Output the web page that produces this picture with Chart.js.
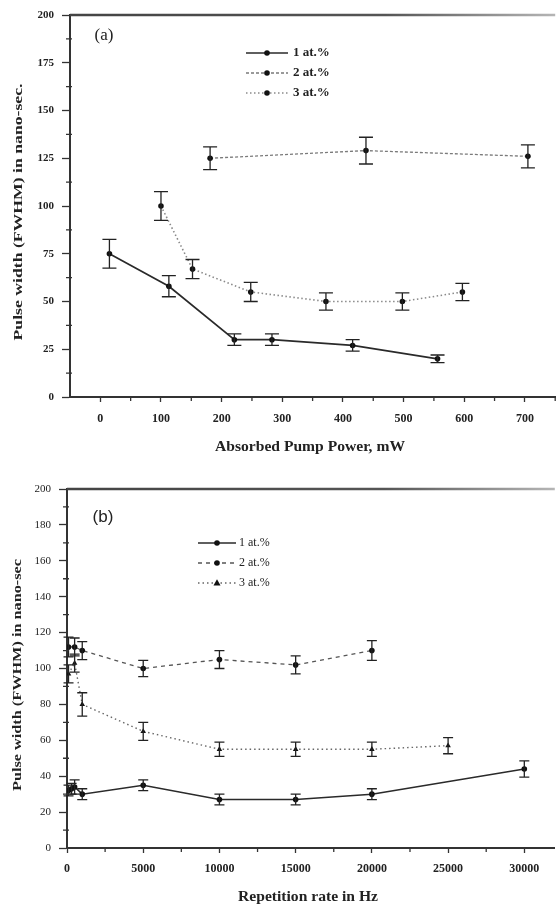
<!DOCTYPE html>
<html>
<head>
<meta charset="utf-8">
<script src="https://cdn.jsdelivr.net/npm/chart.js@4.4.1/dist/chart.umd.min.js"></script>
<style>
  html, body { margin: 0; padding: 0; background: #fff; overflow: hidden; }
  canvas { display: block; }
</style>
</head>
<body>
<canvas id="chartA" width="558" height="465"></canvas>
<canvas id="chartB" width="558" height="440"></canvas>
<script>
// Legend entries (Nd concentration)
const seriesLabels = ['1 at.%', '2 at.%', '3 at.%'];

// ---- (a) Pulse width vs absorbed pump power ----
const powerTicks = [0, 100, 200, 300, 400, 500, 600, 700];
const widthTicksA = [0, 25, 50, 75, 100, 125, 150, 175, 200];
const power1 = [15, 113, 221, 283, 416, 556];
const width1 = [75, 58, 30, 30, 27, 20];
const err1 = [7.5, 5.5, 3, 3, 3, 2];
const power2 = [181, 438, 705];
const width2 = [125, 129, 126];
const err2 = [6, 7, 6];
const power3 = [100, 152, 248, 372, 498, 597];
const width3 = [100, 67, 55, 50, 50, 55];
const err3 = [7.5, 5, 5, 4.5, 4.5, 4.5];

// ---- (b) Pulse width vs repetition rate ----
const rateTicks = [0, 5000, 10000, 15000, 20000, 25000, 30000];
const widthTicksB = [0, 20, 40, 60, 80, 100, 120, 140, 160, 180, 200];
const rate1 = [100, 300, 500, 1000, 5000, 10000, 15000, 20000, 30000];
const rwidth1 = [32, 33, 34, 30, 35, 27, 27, 30, 44];
const rerr1 = [3, 3, 4, 3, 3, 3, 3, 3, 4.5];
const rate2 = [100, 500, 1000, 5000, 10000, 15000, 20000];
const rwidth2 = [112, 112, 110, 100, 105, 102, 110];
const rerr2 = [5.5, 5, 5, 4.5, 5, 5, 5.5];
const rate3 = [100, 500, 1000, 5000, 10000, 15000, 20000, 25000];
const rwidth3 = [97, 103, 80, 65, 55, 55, 55, 57];
const rerr3 = [5, 5, 6.5, 5, 4, 4, 4, 4.5];

const SERIF = "'Liberation Serif', 'Times New Roman', serif";
const SANS = "'Liberation Sans', Arial, sans-serif";
const INK = '#222';

function points(xs, ys) { return xs.map((x, i) => ({ x, y: ys[i] })); }

// vertical error bars with caps, drawn through the y scale
const errorBars = {
  id: 'errorBars',
  afterDatasetsDraw(chart, args, o) {
    const { ctx } = chart;
    const ys = chart.scales.y;
    ctx.save();
    ctx.strokeStyle = o.color;
    ctx.lineWidth = o.width;
    chart.data.datasets.forEach((ds, i) => {
      if (!ds.errors) return;
      chart.getDatasetMeta(i).data.forEach((el, j) => {
        const v = ds.data[j].y, e = ds.errors[j];
        const top = ys.getPixelForValue(v + e);
        const bot = ys.getPixelForValue(v - e);
        const x = el.x;
        ctx.beginPath();
        ctx.moveTo(x, top); ctx.lineTo(x, bot);
        ctx.moveTo(x - o.cap, top); ctx.lineTo(x + o.cap, top);
        ctx.moveTo(x - o.cap, bot); ctx.lineTo(x + o.cap, bot);
        ctx.stroke();
      });
    });
    ctx.restore();
  }
};

// top frame line and minor ticks half way between the major ones
const frame = {
  id: 'frame',
  afterDraw(chart, args, o) {
    const { ctx, chartArea: a } = chart;
    const xs = chart.scales.x, ys = chart.scales.y;
    ctx.save();
    const g = ctx.createLinearGradient(a.left, 0, a.right, 0);
    g.addColorStop(0, '#444');
    g.addColorStop(0.65, '#555');
    g.addColorStop(1, '#b5b5b5');
    ctx.strokeStyle = g;
    ctx.lineWidth = o.topWidth;
    ctx.beginPath();
    ctx.moveTo(a.left, a.top);
    ctx.lineTo(a.right, a.top);
    ctx.stroke();

    ctx.strokeStyle = o.tickColor;
    ctx.lineWidth = 1.3;
    const xt = o.xMajor, yt = o.yMajor;
    const xStep = xt[1] - xt[0], yStep = yt[1] - yt[0];
    ctx.beginPath();
    xt.forEach(v => {
      const m = v + xStep / 2;
      if (m > xs.max) return;
      const px = xs.getPixelForValue(m);
      ctx.moveTo(px, a.bottom); ctx.lineTo(px, a.bottom + o.minorLen);
    });
    yt.forEach(v => {
      const m = v + yStep / 2;
      if (m > ys.max) return;
      const py = ys.getPixelForValue(m);
      ctx.moveTo(a.left - o.minorLen, py); ctx.lineTo(a.left + 2, py);
    });
    ctx.stroke();
    ctx.restore();
  }
};

// legend placed inside the plot: line sample, marker, label
const inlineLegend = {
  id: 'inlineLegend',
  afterDraw(chart, args, o) {
    const { ctx } = chart;
    ctx.save();
    ctx.font = o.font;
    ctx.textBaseline = 'middle';
    chart.data.datasets.forEach((ds, i) => {
      const y = o.y + i * o.gap;
      ctx.strokeStyle = ds.borderColor;
      ctx.lineWidth = ds.borderWidth;
      ctx.setLineDash(ds.borderDash || []);
      ctx.beginPath();
      ctx.moveTo(o.x, y);
      ctx.lineTo(o.x + o.lineLen, y);
      ctx.stroke();
      ctx.setLineDash([]);
      const cx = o.x + o.lineLen / 2, r = ds.pointRadius;
      ctx.fillStyle = ds.pointBackgroundColor;
      ctx.beginPath();
      if (ds.pointStyle === 'triangle') {
        ctx.moveTo(cx, y - r * 1.2);
        ctx.lineTo(cx + r * 1.1, y + r * 0.8);
        ctx.lineTo(cx - r * 1.1, y + r * 0.8);
        ctx.closePath();
      } else {
        ctx.arc(cx, y, r, 0, Math.PI * 2);
      }
      ctx.fill();
      ctx.fillStyle = INK;
      ctx.fillText(ds.label, o.x + o.lineLen + o.textGap, y);
    });
    ctx.restore();
  }
};

// panel tag and axis titles; rotated titles are fitted to a given span
const captions = {
  id: 'captions',
  afterDraw(chart, args, o) {
    const { ctx } = chart;
    ctx.save();
    ctx.fillStyle = INK;
    o.items.forEach(t => {
      ctx.save();
      ctx.font = t.font;
      ctx.translate(t.x, t.y);
      if (t.rotate) ctx.rotate(t.rotate);
      const w = ctx.measureText(t.text).width;
      const s = t.span ? t.span / w : 1;
      ctx.scale(s, 1);
      ctx.textAlign = 'center';
      ctx.textBaseline = 'middle';
      ctx.fillText(t.text, 0, 0);
      ctx.restore();
    });
    ctx.restore();
  }
};

function fixedTicks(list) {
  return scale => { scale.ticks = list.map(v => ({ value: v })); };
}

// plain integers, no thousands separator
const plainNumber = value => String(value);

function lineSet(label, xs, ys, errs, style) {
  return Object.assign({
    label,
    data: points(xs, ys),
    errors: errs,
    showLine: true,
    fill: false,
    tension: 0,
    pointRadius: 2.8,
    pointHoverRadius: 2.8,
    pointBackgroundColor: '#111',
    pointBorderColor: '#111',
    pointBorderWidth: 0,
    pointStyle: 'circle'
  }, style);
}

function baseOptions(p) {
  return {
    responsive: false,
    animation: false,
    events: [],
    layout: { padding: { top: p.top, left: 0, right: 0, bottom: 0 } },
    scales: {
      x: {
        type: 'linear',
        min: p.xMin, max: p.xMax,
        afterFit: s => { s.height = p.xHeight; },
        afterBuildTicks: fixedTicks(p.xTicks),
        border: { display: true, color: '#333', width: 2 },
        grid: { drawOnChartArea: false, drawTicks: true, tickLength: 5, tickColor: '#333', tickWidth: 1.3 },
        ticks: { color: INK, padding: p.xPad, maxRotation: 0, autoSkip: false, callback: plainNumber,
                 font: { family: SERIF, size: 12, weight: 'bold' } }
      },
      y: {
        type: 'linear',
        min: 0, max: 200,
        afterFit: s => { s.width = p.yWidth; },
        afterBuildTicks: fixedTicks(p.yTicks),
        border: { display: true, color: '#333', width: 2 },
        grid: { drawOnChartArea: false, drawTicks: true, tickLength: 8, tickColor: '#333', tickWidth: 1.3 },
        ticks: { color: INK, padding: 8, autoSkip: false, callback: plainNumber,
                 font: { family: SERIF, size: 11, weight: p.yWeight } }
      }
    },
    plugins: {
      legend: { display: false },
      tooltip: { enabled: false },
      errorBars: { color: '#222', width: 1.3, cap: p.cap },
      frame: { topWidth: 2.5, tickColor: '#333', minorLen: 4, xMajor: p.xTicks, yMajor: p.yTicks },
      inlineLegend: p.legend,
      captions: { items: p.captions }
    }
  };
}

new Chart(document.getElementById('chartA'), {
  type: 'line',
  data: {
    datasets: [
      lineSet(seriesLabels[0], power1, width1, err1, { borderColor: '#2a2a2a', borderWidth: 1.7 }),
      lineSet(seriesLabels[1], power2, width2, err2, { borderColor: '#7a7a7a', borderWidth: 1.3, borderDash: [3, 2] }),
      lineSet(seriesLabels[2], power3, width3, err3, { borderColor: '#8a8a8a', borderWidth: 1.6, borderDash: [1.5, 2.5] })
    ]
  },
  options: baseOptions({
    top: 15, xHeight: 68, yWidth: 70,
    xMin: -50, xMax: 750, xTicks: powerTicks, yTicks: widthTicksA,
    xPad: 10, yWeight: 'bold', cap: 7,
    legend: { x: 246, y: 53, gap: 20, lineLen: 42, textGap: 5,
              font: "bold 13px " + SERIF },
    captions: [
      { text: '(a)', x: 104, y: 36, font: "17px " + SERIF },
      { text: 'Absorbed Pump Power, mW', x: 310, y: 447, font: "bold 14px " + SERIF, span: 190 },
      { text: 'Pulse width (FWHM) in nano-sec.', x: 19, y: 212, rotate: -Math.PI / 2,
        font: "bold 13px " + SERIF, span: 257 }
    ]
  }),
  plugins: [errorBars, frame, inlineLegend, captions]
});

new Chart(document.getElementById('chartB'), {
  type: 'line',
  data: {
    datasets: [
      lineSet(seriesLabels[0], rate1, rwidth1, rerr1, { borderColor: '#2a2a2a', borderWidth: 1.5 }),
      lineSet(seriesLabels[1], rate2, rwidth2, rerr2, { borderColor: '#555', borderWidth: 1.3, borderDash: [4, 4] }),
      lineSet(seriesLabels[2], rate3, rwidth3, rerr3, { borderColor: '#666', borderWidth: 1.4, borderDash: [1.5, 3],
                                                        pointStyle: 'triangle', pointRadius: 3.2 })
    ]
  },
  options: baseOptions({
    top: 24, xHeight: 57, yWidth: 67,
    xMin: 0, xMax: 32000, xTicks: rateTicks, yTicks: widthTicksB,
    xPad: 9, yWeight: 'normal', cap: 5,
    legend: { x: 198, y: 78, gap: 20, lineLen: 38, textGap: 3,
              font: "12px " + SERIF },
    captions: [
      { text: '(b)', x: 103, y: 52, font: "17px " + SANS },
      { text: 'Repetition rate in Hz', x: 308, y: 432, font: "bold 14px " + SERIF, span: 140 },
      { text: 'Pulse width (FWHM) in nano-sec', x: 18, y: 210, rotate: -Math.PI / 2,
        font: "bold 13px " + SERIF, span: 232 }
    ]
  }),
  plugins: [errorBars, frame, inlineLegend, captions]
});
</script>
</body>
</html>
